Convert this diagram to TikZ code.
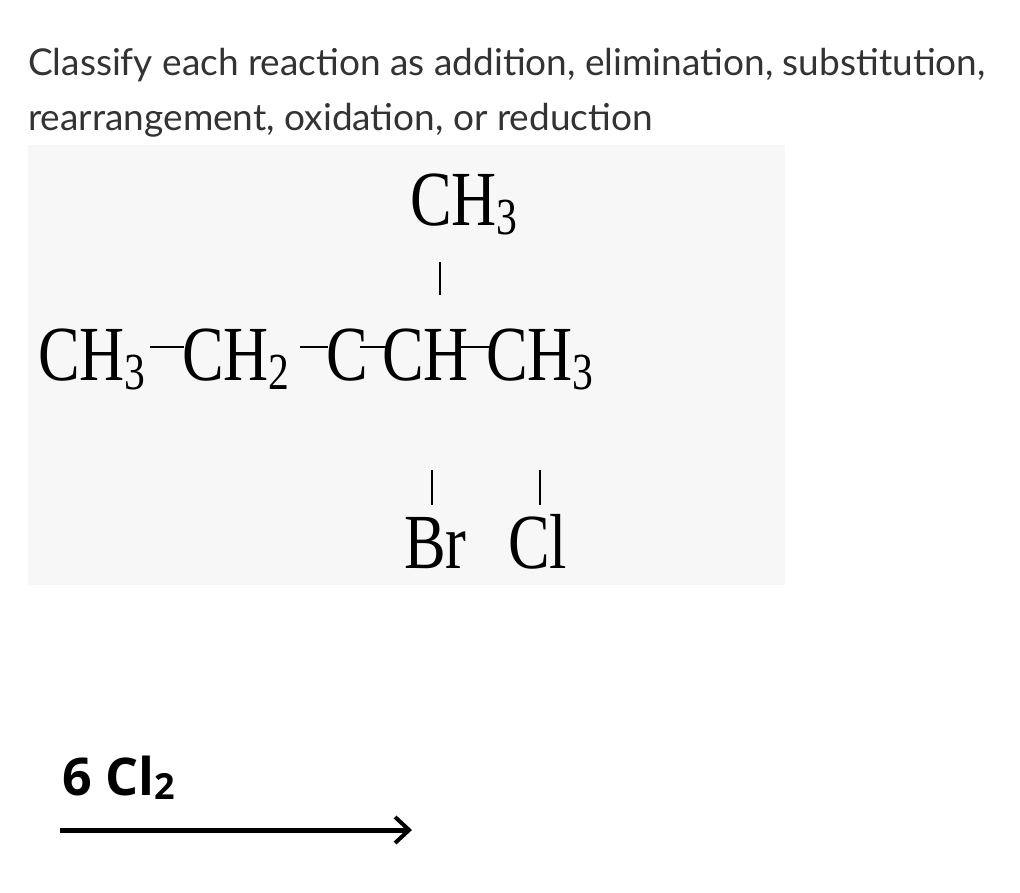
\documentclass[tikz,border=0pt]{standalone}
\usetikzlibrary{arrows.meta}
\usepackage{fontspec}
\setmainfont{Liberation Serif}
\newfontfamily\lato{Lato}
\newcommand{\mol}[1]{\scalebox{0.8}[1]{\fontsize{78}{78}\selectfont #1}}
\newcommand{\sbs}[1]{\raisebox{-9pt}{\fontsize{52}{52}\selectfont #1}}
\begin{document}
\begin{tikzpicture}[x=1pt,y=-1pt,
  grp/.style={inner sep=0pt,anchor=base west},
  bond/.style={line width=2pt}]
\useasboundingbox (0,0) rectangle (1020,892);
\fill[white] (0,0) rectangle (1020,892);
\fill[black!3] (28,145) rectangle (785,585);
\node[anchor=base west,inner sep=0pt,font=\lato\fontsize{37}{37}\selectfont,text=black!80] (t1) at (28,75) {Classify each reaction as addition, elimination, substitution,};
\node[anchor=base west,inner sep=0pt,font=\lato\fontsize{37}{37}\selectfont,text=black!80] (t2) at (28,130) {rearrangement, oxidation, or reduction};
% molecule
\node[grp] (top) at (410,225) {\mol{CH\sbs{3}}};
\node[grp] (a) at (38,380) {\mol{CH\sbs{3}}};
\node[grp] (b) at (182,380) {\mol{CH\sbs{2}}};
\node[grp] (c) at (326,380) {\mol{C}};
\node[grp] (d) at (382,380) {\mol{CH}};
\node[grp] (e) at (486,380) {\mol{CH\sbs{3}}};
\node[grp] (br) at (404,568) {\mol{Br}};
\node[grp] (cl) at (508,568) {\mol{Cl}};
\draw[bond] (440,262) -- (440,295);
\draw[bond] (150,347) -- (184,347);
\draw[bond] (300,347) -- (328,347);
\draw[bond] (360,347) -- (386,347);
\draw[bond] (456,347) -- (490,347);
\draw[bond] (432,470) -- (432,505);
\draw[bond] (540,470) -- (540,505);
% reagent
\node[anchor=base west,inner sep=0pt,font=\fontspec{Open Sans}\bfseries\fontsize{52}{52}\selectfont] (r) at (62,795) {6 Cl\raisebox{-4pt}{\fontsize{36}{36}\selectfont 2}};
\coordinate (s) at (60,830);
\coordinate (f) at (412,830);
\draw[line width=5pt,-{Straight Barb[length=14pt,width=26pt,line width=4pt]}] (s) -- (f);
\end{tikzpicture}
\end{document}
